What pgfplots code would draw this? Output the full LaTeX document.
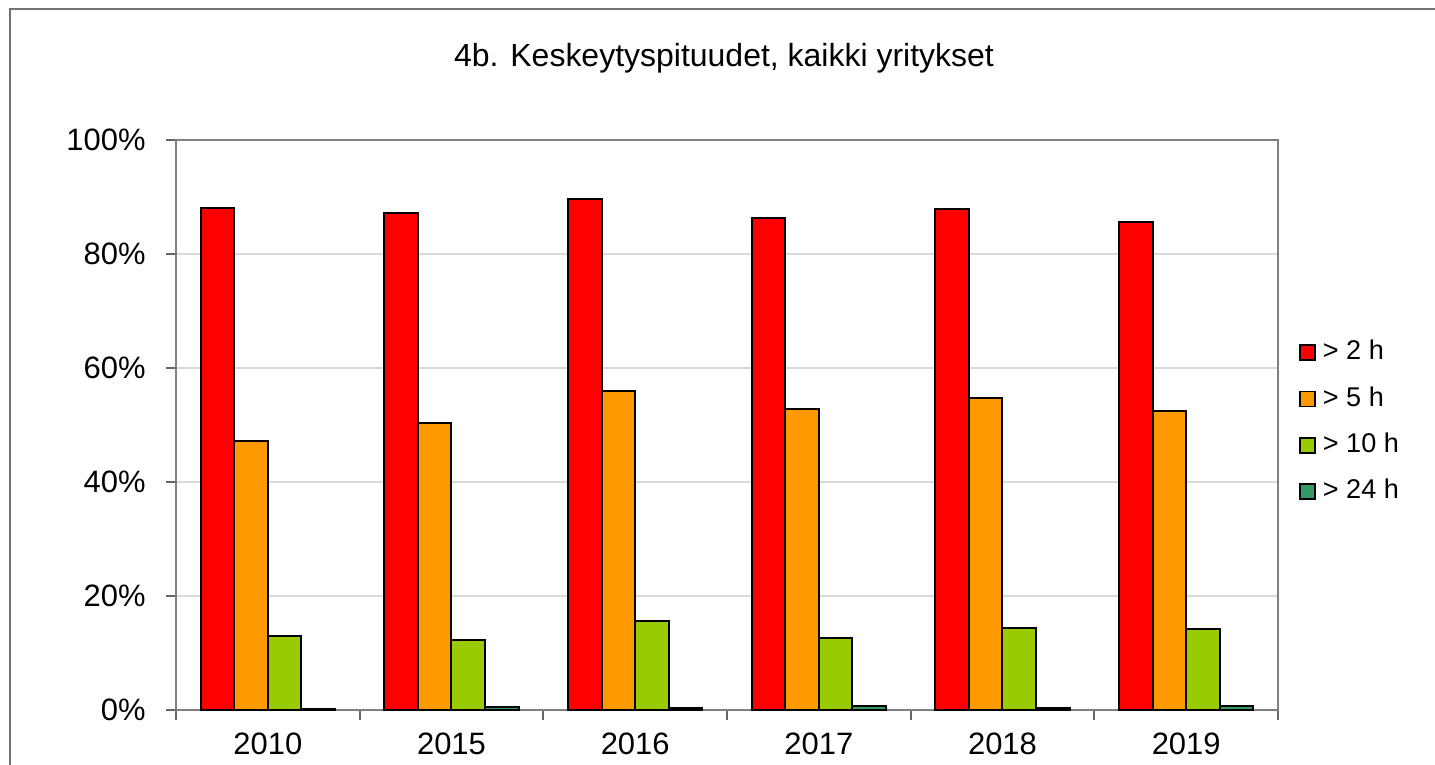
\documentclass[border=0pt]{standalone}
\usepackage{pgfplots}
\pgfplotsset{compat=1.18}
\usepackage{fontspec}
\setmainfont{Liberation Sans}
\definecolor{cRed}{RGB}{255,0,0}
\definecolor{cOrange}{RGB}{255,153,0}
\definecolor{cLime}{RGB}{153,204,0}
\definecolor{cTeal}{RGB}{51,153,102}
\begin{document}
\begin{tikzpicture}[x=1mm,y=1mm]
\useasboundingbox (0,0) rectangle (143.5,76.4);
\clip (0,0) rectangle (143.5,76.4);
\draw[black!55, line width=0.2mm] (1.0,-5) -- (1.0,75.5) -- (150,75.5);
\node[font=\fontsize{9.1}{11}\selectfont] at (72.4,70.6) {4b. Keskeytyspituudet, kaikki yritykset};
\begin{axis}[
  at={(17.6mm,5.4mm)}, anchor=south west,
  scale only axis, width=110.2mm, height=57mm,
  xmin=-0.5, xmax=5.5, ymin=0, ymax=100,
  ybar=0pt, bar width=0.1825,
  xtick={-0.5,0.5,1.5,2.5,3.5,4.5,5.5}, x tick label as interval,
  xticklabels={2010,2015,2016,2017,2018,2019},
  ytick={0,20,40,60,80,100}, yticklabels={0\%,20\%,40\%,60\%,80\%,100\%},
  tick align=outside, major tick length=1mm,
  xtick pos=bottom, ytick pos=left,
  ymajorgrids, grid style={black!15, line width=0.2mm},
  axis line style={black!50, line width=0.2mm},
  tick style={black!60, line width=0.2mm},
  ticklabel style={font=\fontsize{8.8}{10}\selectfont},
  yticklabel style={xshift=-0.8mm},
  every axis plot/.append style={draw=black, line width=0.2mm},
  legend style={at={(1.009,0.675)}, anchor=north west, draw=none, fill=none,
    font=\fontsize{7.7}{9}\selectfont, row sep=0.75mm, legend cell align=left},
  legend image code/.code={\draw[#1, line width=0.5pt] (0mm,-0.75mm) rectangle (1.5mm,0.75mm);},
]
\addplot[fill=cRed] coordinates {(0,88.1) (1,87.2) (2,89.6) (3,86.3) (4,87.9) (5,85.6)};
\addplot[fill=cOrange] coordinates {(0,47.2) (1,50.4) (2,56.0) (3,52.8) (4,54.7) (5,52.5)};
\addplot[fill=cLime] coordinates {(0,13.0) (1,12.3) (2,15.6) (3,12.6) (4,14.4) (5,14.2)};
\addplot[fill=cTeal] coordinates {(0,0.2) (1,0.6) (2,0.4) (3,0.7) (4,0.4) (5,0.7)};
\legend{> 2 h, > 5 h, > 10 h, > 24 h}
\end{axis}
\end{tikzpicture}
\end{document}
